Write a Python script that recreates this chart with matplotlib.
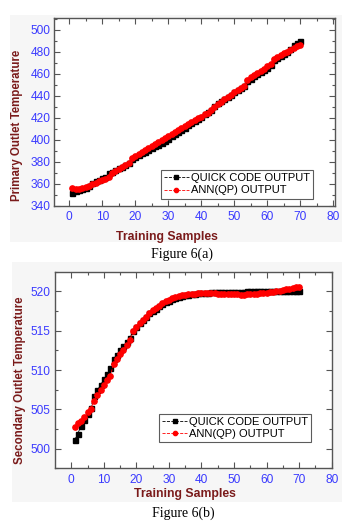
import matplotlib
matplotlib.use("Agg")
import matplotlib.pyplot as plt
from matplotlib.patches import Rectangle
import numpy as np

# ---------------- data ----------------
samples = list(range(1, 71))

primary_quick = [351.5, 353, 354, 355, 356.5, 358, 360.5, 362, 363.5, 365,
                 366.5, 369.5, 371, 372.5, 374, 375.5, 377, 378.5, 382.5, 384.5,
                 386, 387.5, 389, 390.5, 392, 394, 395.5, 397, 399, 401,
                 403, 405, 407, 409, 411, 413, 415, 417, 419, 421,
                 423, 425, 427, 431, 433, 435, 437, 439, 441, 443,
                 445, 447, 449, 453.5, 455.5, 457.5, 459.5, 461.5, 463.5, 465.5,
                 467.5, 472, 474, 476, 478, 480, 482, 486, 488, 490]

primary_ann = [356, 355.5, 355.5, 356, 357, 358, 359.5, 360.5, 362, 363,
               364.5, 366.5, 369.5, 371.5, 373, 375, 377, 379, 383, 385,
               387, 389, 391, 392.5, 394.5, 396, 398, 400, 401.5, 403.5,
               405, 407, 409, 410.5, 412.5, 414, 416, 418, 419.5, 421,
               423, 424.5, 426.5, 430, 432, 434.5, 436.5, 438.5, 441, 443,
               445, 447, 449, 454, 456.5, 458.5, 460.5, 462.5, 464.5, 466.5,
               468.5, 473, 475, 477, 478.5, 480, 481.5, 483, 485, 486]

secondary_quick = [501.1, 501.9, 502.9, 503.6, 504.4, 505.2, 506.7, 507.4, 508.1, 508.8,
                   509.5, 510.2, 511.4, 511.95, 512.5, 513.05, 513.6, 514.1, 515.0, 515.5,
                   516.0, 516.4, 516.8, 517.2, 517.5, 517.8, 518.1, 518.35, 518.6, 518.8,
                   519.0, 519.15, 519.3, 519.4, 519.5, 519.6, 519.65, 519.7, 519.75, 519.8,
                   519.82, 519.84, 519.86, 519.88, 519.9, 519.91, 519.92, 519.93, 519.94, 519.95,
                   519.96, 519.97, 519.98, 519.99, 520.0, 520.0, 520.0, 520.0, 520.0, 520.0,
                   520.0, 520.0, 520.0, 520.0, 520.0, 520.0, 520.0, 520.0, 520.0, 520.0]

secondary_ann = [502.8, 503.2, 503.55, 504.0, 504.6, 505.05, 506.1, 506.8, 507.4, 508.05,
                 508.7, 509.3, 510.7, 511.4, 512.0, 512.6, 513.2, 513.85, 514.9, 515.45,
                 516.0, 516.4, 516.8, 517.25, 517.6, 517.9, 518.2, 518.5, 518.75, 518.95,
                 519.1, 519.25, 519.4, 519.5, 519.6, 519.65, 519.7, 519.72, 519.75, 519.78,
                 519.78, 519.77, 519.75, 519.73, 519.71, 519.69, 519.67, 519.65, 519.63, 519.62,
                 519.61, 519.6, 519.6, 519.61, 519.63, 519.66, 519.7, 519.74, 519.79, 519.85,
                 519.91, 519.97, 520.04, 520.1, 520.17, 520.24, 520.32, 520.4, 520.5, 520.6]

x_ticks = [0, 10, 20, 30, 40, 50, 60, 70, 80]
y_ticks_a = [340, 360, 380, 400, 420, 440, 460, 480, 500]
y_ticks_b = [500, 505, 510, 515, 520]

# ---------------- style ----------------
W, H = 353, 523
fig = plt.figure(figsize=(W / 100, H / 100), dpi=100)
fig.patch.set_facecolor("white")

TICK_C = "#3a3aff"
LAB_C = "#7a1a1a"
FRAME_C = "#555555"
plt.rcParams["font.family"] = ["Liberation Sans", "DejaVu Sans"]

# light grey panels behind each chart
fig.patches.append(Rectangle((10 / W, 1 - 242 / H), 332 / W, 227 / H,
                             transform=fig.transFigure, facecolor="#f6f6f6",
                             edgecolor="none", zorder=-5))
fig.patches.append(Rectangle((12 / W, 1 - 502 / H), 330 / W, 240 / H,
                             transform=fig.transFigure, facecolor="#f6f6f6",
                             edgecolor="none", zorder=-5))


def px_axes(left, top, right, bottom):
    return fig.add_axes([left / W, 1 - bottom / H, (right - left) / W, (bottom - top) / H])


def style(ax, xlim, ylim, yticks, yminor):
    ax.set_facecolor("white")
    ax.set_xlim(*xlim)
    ax.set_ylim(*ylim)
    ax.set_xticks(x_ticks)
    ax.set_xticks(np.arange(5, 80, 10), minor=True)
    ax.set_yticks(yticks)
    ax.set_yticks(yminor, minor=True)
    ax.tick_params(which="both", direction="in", top=True, right=True,
                   colors=FRAME_C, labelcolor=TICK_C, labelsize=8.6, width=0.8)
    ax.tick_params(which="major", length=4)
    ax.tick_params(which="minor", length=2.5)
    ax.tick_params(axis="x", pad=4)
    ax.tick_params(axis="y", pad=3)
    ax.tick_params(labeltop=False, labelright=False)
    for s in ax.spines.values():
        s.set_color(FRAME_C)
        s.set_linewidth(1.0)


def legend(ax, anchor):
    leg = ax.legend(loc="lower right", bbox_to_anchor=anchor, fontsize=8,
                    frameon=True, fancybox=False, edgecolor="#333333",
                    handlelength=2.2, handletextpad=0.2, borderpad=0.3,
                    labelspacing=0.2, borderaxespad=0.2, markerscale=0.8)
    leg.get_frame().set_linewidth(0.8)


# ---- Figure 6(a)
ax1 = px_axes(54.3, 18, 335, 205.7)
ax1.plot(samples, primary_quick, color="black", marker="s", markersize=3.6,
         linewidth=0.6, linestyle="--", label="QUICK CODE OUTPUT", zorder=3)
ax1.plot(samples, primary_ann, color="red", marker="o", markersize=3.8,
         linewidth=0.6, linestyle="--", label="ANN(QP) OUTPUT", zorder=4)
style(ax1, (-4.5, 80.5), (340, 510.5), y_ticks_a, np.arange(350, 511, 20))
legend(ax1, (0.93, 0.025))
fig.text(167 / W, 1 - 237 / H, "Training Samples", ha="center", va="center",
         fontsize=8.8, fontweight="bold", color=LAB_C)
fig.text(17 / W, 1 - 125 / H, "Primary Outlet Temperature", ha="center", va="center",
         rotation=90, fontsize=8.3, fontweight="bold", color=LAB_C)
fig.text(182 / W, 1 - 254 / H, "Figure 6(a)", ha="center", va="center",
         fontsize=10, family=["Liberation Serif", "DejaVu Serif"], color="black")

# ---- Figure 6(b)
ax2 = px_axes(55, 271.7, 331.7, 468.3)
ax2.plot(samples, secondary_quick, color="black", marker="s", markersize=3.6,
         linewidth=0.6, linestyle="--", label="QUICK CODE OUTPUT", zorder=3)
ax2.plot(samples, secondary_ann, color="red", marker="o", markersize=3.8,
         linewidth=0.6, linestyle="--", label="ANN(QP) OUTPUT", zorder=4)
style(ax2, (-5, 80), (497.5, 522.5), y_ticks_b, np.arange(497.5, 523, 2.5))
legend(ax2, (0.935, 0.12))
fig.text(185 / W, 1 - 494 / H, "Training Samples", ha="center", va="center",
         fontsize=8.8, fontweight="bold", color=LAB_C)
fig.text(20 / W, 1 - 380 / H, "Secondary Outlet Temperature", ha="center", va="center",
         rotation=90, fontsize=8.3, fontweight="bold", color=LAB_C)
fig.text(183 / W, 1 - 513 / H, "Figure 6(b)", ha="center", va="center",
         fontsize=10, family=["Liberation Serif", "DejaVu Serif"], color="black")

fig.savefig("out.png", dpi=100)
